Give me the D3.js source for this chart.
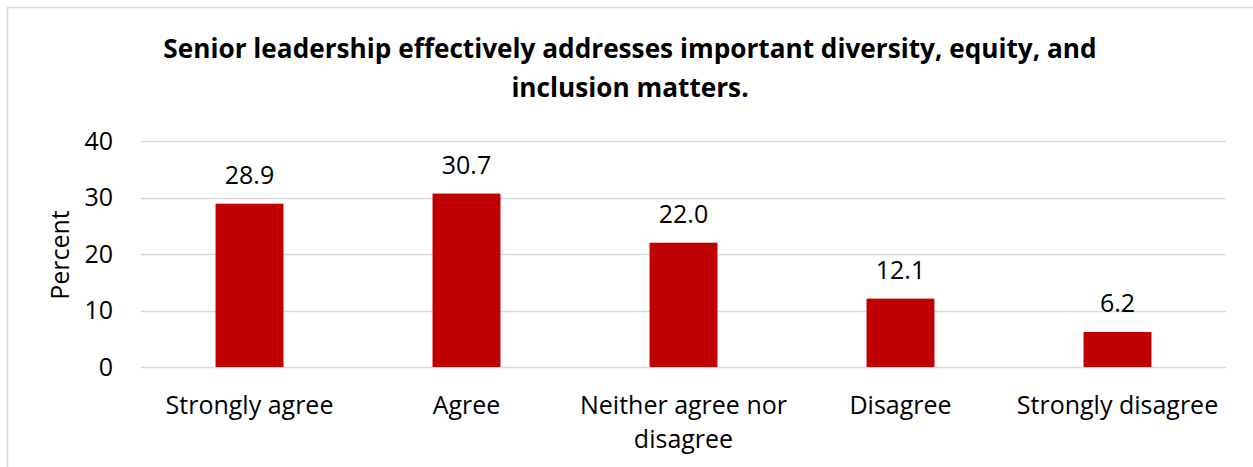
<!DOCTYPE html>
<html>
<head>
<meta charset="utf-8">
<script src="https://cdn.jsdelivr.net/npm/d3@7"></script>
<style>
  body { margin: 0; background: #fff; }
  text { font-family: "Open Sans", sans-serif; fill: #000; }
</style>
</head>
<body>
<div id="chart"></div>
<script>
// chart data
var categories = ["Strongly agree", "Agree", "Neither agree nor disagree", "Disagree", "Strongly disagree"];
var percents = [28.9, 30.7, 22.0, 12.1, 6.2];
var yTicks = [0, 10, 20, 30, 40];
var titleLines = ["Senior leadership effectively addresses important diversity, equity, and", "inclusion matters."];

var width = 1253, height = 467;
var margin = {top: 141, right: 27, bottom: 100, left: 141};
var labelSize = "25px";

var svg = d3.select("#chart")
  .append("svg")
    .attr("width", width)
    .attr("height", height);

// outer border
svg.append("rect")
  .attr("x", 7.5).attr("y", 7.5)
  .attr("width", width).attr("height", height)
  .attr("fill", "none")
  .attr("stroke", "#d9d9d9")
  .attr("stroke-width", 1.5);

var x = d3.scaleBand()
  .domain(categories)
  .range([margin.left, width - margin.right])
  .paddingInner(0.687)
  .paddingOuter(0.3435);

var y = d3.scaleLinear()
  .domain([0, 40])
  .range([367, margin.top]);

// title
svg.append("g").selectAll("text")
  .data(titleLines)
  .enter().append("text")
    .attr("x", 630)
    .attr("y", function(d, i) { return 58 + i * 39; })
    .attr("text-anchor", "middle")
    .style("font-size", "26.2px")
    .style("font-weight", "bold")
    .text(function(d) { return d; });

// gridlines
svg.append("g").selectAll("line")
  .data(yTicks)
  .enter().append("line")
    .attr("x1", margin.left)
    .attr("x2", width - margin.right)
    .attr("y1", function(d) { return Math.round(y(d)) + 0.5; })
    .attr("y2", function(d) { return Math.round(y(d)) + 0.5; })
    .attr("stroke", "#d9d9d9")
    .attr("stroke-width", 1.5);

// y axis labels
var yAxis = d3.axisLeft(y).tickValues(yTicks).tickSize(0).tickPadding(28);
var gy = svg.append("g")
  .attr("transform", "translate(" + margin.left + ",0)")
  .call(yAxis);
gy.select(".domain").remove();
gy.selectAll("text")
  .style("font-size", labelSize)
  .style("font-family", "'Open Sans', sans-serif")
  .attr("fill", "#000");

// y axis title
svg.append("text")
  .attr("transform", "translate(69,255)rotate(-90)")
  .attr("text-anchor", "middle")
  .style("font-size", labelSize)
  .text("Percent");

// bars
svg.append("g").selectAll("rect")
  .data(percents)
  .enter().append("rect")
    .attr("x", function(d, i) { return x(categories[i]); })
    .attr("y", function(d) { return y(d); })
    .attr("width", x.bandwidth())
    .attr("height", function(d) { return y(0) - y(d); })
    .attr("fill", "#c00000");

// value labels
svg.append("g").selectAll("text")
  .data(percents)
  .enter().append("text")
    .attr("x", function(d, i) { return x(categories[i]) + x.bandwidth() / 2; })
    .attr("y", function(d) { return y(d) - 20; })
    .attr("text-anchor", "middle")
    .style("font-size", labelSize)
    .text(function(d) { return d.toFixed(1); });

// category labels, wrapped like the original
var wrapped = {"Neither agree nor disagree": ["Neither agree nor", "disagree"]};
var gx = svg.append("g").selectAll("text")
  .data(categories)
  .enter().append("text")
    .attr("x", function(d) { return x(d) + x.bandwidth() / 2; })
    .attr("y", 414)
    .attr("text-anchor", "middle")
    .style("font-size", labelSize);
gx.each(function(d) {
  var lines = wrapped[d] || [d];
  var t = d3.select(this);
  lines.forEach(function(l, i) {
    t.append("tspan")
      .attr("x", t.attr("x"))
      .attr("dy", i === 0 ? 0 : 34)
      .text(l);
  });
});
</script>
</body>
</html>
